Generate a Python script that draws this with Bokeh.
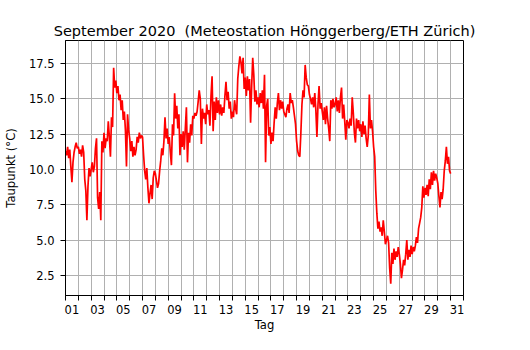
import numpy as np
from bokeh.plotting import figure
from bokeh.models import Range1d, FixedTicker, PrintfTickFormatter
from bokeh.embed import file_html
from bokeh.resources import INLINE

# ---- data (dew point, 2-hour samples, one row per day) ----
samples_per_day = 12
d00 = [11.3, 11.0, 11.6, 10.8, 11.4, 10.2, 9.1, 10.5, 11.2, 11.6, 11.9, 11.5]
d01 = [11.6, 11.1, 11.4, 10.9, 11.7, 11.2, 9.3, 8.5, 6.4, 8.8, 10.1, 9.5]
d02 = [10.0, 10.5, 9.8, 10.2, 11.5, 12.2, 8.0, 7.2, 8.4, 6.4, 12.0, 11.2]
d03 = [12.6, 11.5, 12.2, 12.0, 13.4, 12.3, 10.9, 13.7, 13.0, 17.2, 15.8, 16.3]
d04 = [15.4, 15.9, 14.9, 15.3, 14.2, 14.9, 13.5, 14.1, 12.8, 10.2, 13.9, 12.8]
d05 = [12.2, 11.3, 12.0, 10.9, 11.6, 11.0, 11.4, 12.3, 11.9, 12.6, 12.2, 12.4]
d06 = [12.3, 11.0, 9.9, 9.3, 10.1, 8.7, 7.6, 8.3, 8.9, 7.9, 9.4, 9.9]
d07 = [9.7, 9.2, 8.7, 9.0, 9.9, 10.6, 11.5, 11.0, 12.0, 13.7, 12.2, 12.9]
d08 = [11.8, 12.3, 11.2, 10.3, 13.2, 12.4, 15.4, 13.6, 14.5, 12.9, 13.9, 11.0]
d09 = [12.5, 11.6, 12.7, 11.4, 12.9, 14.4, 10.5, 12.6, 11.9, 13.2, 12.4, 13.8]
d10 = [13.6, 14.0, 13.8, 14.1, 14.8, 15.6, 15.0, 11.8, 14.3, 13.6, 14.0, 13.2]
d11 = [14.6, 13.9, 14.2, 13.1, 15.2, 16.6, 12.7, 14.8, 13.5, 15.1, 14.0, 14.9]
d12 = [13.9, 14.6, 13.8, 14.4, 14.0, 15.2, 16.2, 14.9, 15.5, 14.3, 14.8, 13.6]
d13 = [14.1, 13.7, 14.9, 14.3, 13.9, 16.4, 17.3, 18.0, 17.6, 16.8, 17.9, 15.7]
d14 = [16.5, 15.2, 16.6, 15.6, 16.4, 13.3, 15.9, 17.9, 16.7, 14.8, 15.6, 14.6]
d15 = [15.1, 14.4, 15.4, 14.7, 15.6, 14.3, 16.7, 10.5, 14.5, 15.0, 12.4, 13.0]
d16 = [11.8, 12.6, 12.0, 13.3, 14.4, 13.6, 14.7, 15.4, 14.2, 14.9, 14.3, 14.8]
d17 = [14.1, 13.9, 13.7, 14.3, 14.6, 14.0, 15.4, 14.7, 14.9, 14.4, 13.8, 13.2]
d18 = [12.0, 11.3, 11.0, 10.9, 12.6, 14.6, 15.6, 15.1, 17.4, 16.5, 16.0, 15.9]
d19 = [15.3, 15.0, 14.6, 15.1, 14.4, 15.4, 14.2, 12.3, 14.6, 15.9, 14.3, 14.7]
d20 = [14.1, 13.5, 14.4, 13.2, 14.5, 13.6, 12.9, 12.0, 14.9, 14.3, 15.0, 14.4]
d21 = [14.6, 15.1, 14.1, 14.9, 14.0, 15.1, 15.8, 13.6, 14.6, 13.4, 12.1, 13.5]
d22 = [13.3, 12.9, 13.6, 13.1, 15.1, 14.0, 12.6, 11.9, 13.6, 12.9, 13.5, 12.7]
d23 = [13.2, 12.3, 13.4, 12.5, 13.1, 12.2, 11.6, 12.4, 15.3, 12.9, 13.5, 12.7]
d24 = [11.6, 10.9, 8.5, 6.9, 5.8, 6.3, 5.6, 5.9, 5.3, 6.4, 5.6, 4.7]
d25 = [5.0, 5.3, 4.8, 3.0, 1.9, 4.1, 3.3, 4.4, 3.6, 4.2, 3.8, 4.5]
d26 = [4.0, 3.3, 2.3, 2.9, 3.6, 3.2, 4.0, 5.0, 3.6, 4.3, 3.8, 4.6]
d27 = [4.0, 4.5, 4.2, 4.6, 5.2, 4.8, 5.8, 6.2, 6.6, 7.3, 8.8, 8.0]
d28 = [8.7, 8.2, 8.9, 8.1, 9.3, 8.6, 9.8, 8.9, 9.9, 9.2, 9.7, 9.4]
d29 = [9.0, 8.1, 7.3, 8.4, 7.9, 8.6, 9.9, 10.6, 11.6, 10.4, 10.9, 9.9, 9.7]

days = [d00, d01, d02, d03, d04, d05, d06, d07, d08, d09,
        d10, d11, d12, d13, d14, d15, d16, d17, d18, d19,
        d20, d21, d22, d23, d24, d25, d26, d27, d28, d29]
taupunkt = [v for d in days for v in d]
t = np.arange(len(taupunkt)) / samples_per_day

day_labels = ["01", "03", "05", "07", "09", "11", "13", "15",
              "17", "19", "21", "23", "25", "27", "29", "31"]
y_ticks = [2.5, 5.0, 7.5, 10.0, 12.5, 15.0, 17.5]

FONT = "DejaVu Sans"

p = figure(width=514, height=334, output_backend="svg", toolbar_location=None,
           x_range=Range1d(0, 31), y_range=Range1d(1.07, 19.13),
           min_border_left=65, min_border_right=51,
           min_border_top=40, min_border_bottom=36)

p.title.text = "September 2020\u00a0 (Meteostation Hönggerberg/ETH Zürich)"
p.title.text_font = FONT
p.title.text_font_size = "14.5px"
p.title.text_font_style = "normal"
p.title.text_color = "black"
p.title.align = "center"
p.title.standoff = 4

p.outline_line_color = "black"
p.outline_line_alpha = 1.0
p.outline_line_width = 1

p.line(t, taupunkt, line_color="#ff0000", line_width=1.7)

label_pos = [2 * i + 0.5 for i in range(len(day_labels))]
p.xaxis.ticker = FixedTicker(ticks=label_pos, minor_ticks=list(range(32)))
p.xaxis.major_label_overrides = {pos: lab for pos, lab in zip(label_pos, day_labels)}
p.xaxis.major_tick_out = 0
p.xaxis.major_tick_in = 0
p.xaxis.minor_tick_out = 5
p.xaxis.minor_tick_in = 0
p.xaxis.minor_tick_line_color = "black"
p.xaxis.major_label_standoff = 4
p.xaxis.axis_label = "Tag"
p.xaxis.axis_label_standoff = 1

p.yaxis.ticker = FixedTicker(ticks=y_ticks, minor_ticks=[])
p.yaxis.formatter = PrintfTickFormatter(format="%.1f")
p.yaxis.major_tick_out = 5
p.yaxis.major_tick_in = 0
p.yaxis.minor_tick_line_color = None
p.yaxis.major_label_standoff = 6
p.yaxis.axis_label = "Taupunkt (°C)"
p.yaxis.axis_label_standoff = 8

for ax in (p.xaxis, p.yaxis):
    ax.axis_line_color = "black"
    ax.major_tick_line_color = "black"
    ax.major_label_text_font = FONT
    ax.major_label_text_font_size = "11.5px"
    ax.major_label_text_color = "black"
    ax.axis_label_text_font = FONT
    ax.axis_label_text_font_size = "11.6px"
    ax.axis_label_text_font_style = "normal"
    ax.axis_label_text_color = "black"

p.xgrid.ticker = FixedTicker(ticks=list(range(32)))
p.ygrid.ticker = FixedTicker(ticks=y_ticks)
for g in (p.xgrid, p.ygrid):
    g.grid_line_color = "#b0b0b0"
    g.grid_line_width = 1
    g.grid_line_alpha = 1.0

open("out.html", "w").write(file_html(p, INLINE))
